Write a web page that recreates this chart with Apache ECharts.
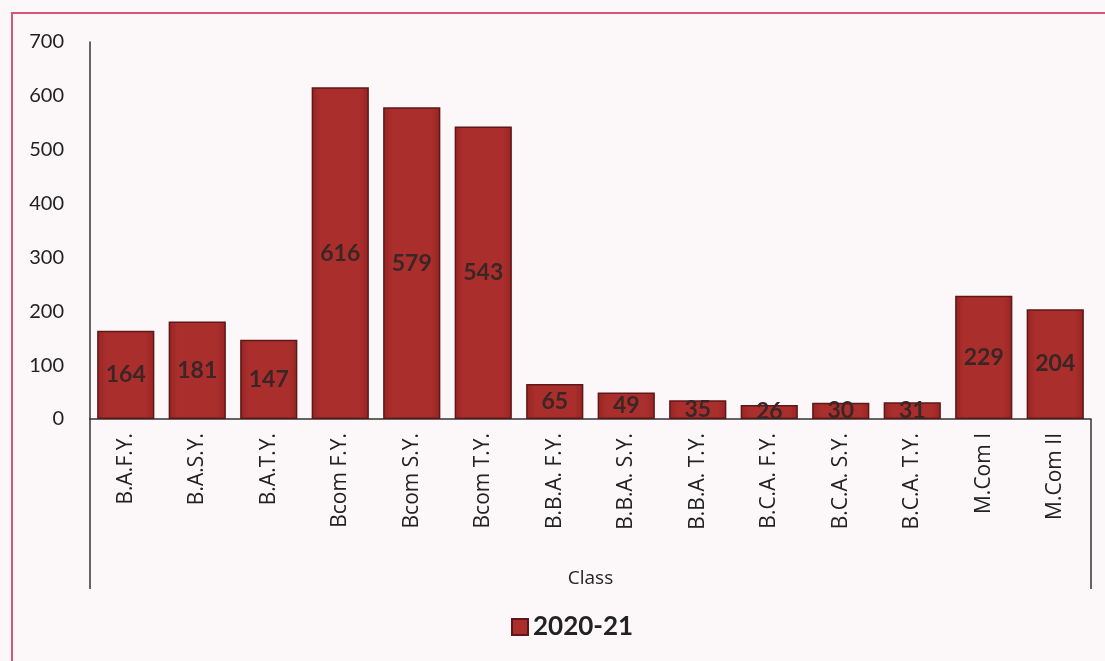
<!DOCTYPE html>
<html>
<head>
<meta charset="utf-8">
<script src="https://cdn.jsdelivr.net/npm/echarts@6/dist/echarts.min.js"></script>
<style>
html,body{margin:0;padding:0;background:#fcf8f9;}
#chart{width:1105px;height:661px;}
</style>
</head>
<body>
<div id="chart"></div>
<script>
const categories = ['B.A.F.Y.', 'B.A.S.Y.', 'B.A.T.Y.', 'Bcom F.Y.', 'Bcom S.Y.', 'Bcom T.Y.', 'B.B.A. F.Y.', 'B.B.A. S.Y.', 'B.B.A. T.Y.', 'B.C.A. F.Y.', 'B.C.A. S.Y.', 'B.C.A. T.Y.', 'M.Com I', 'M.Com II'];
const values2020 = [164, 181, 147, 616, 579, 543, 65, 49, 35, 26, 30, 31, 229, 204];
const seriesName = '2020-21';
const xAxisName = 'Class';

const chart = echarts.init(document.getElementById('chart'));
chart.setOption({
  backgroundColor: '#fcf8f9',
  animation: false,
  graphic: [{
    type: 'rect',
    shape: {x: 12, y: 13, width: 1110, height: 670},
    style: {fill: 'none', stroke: '#d4577a', lineWidth: 2},
    silent: true
  }],
  grid: {left: 90, right: 14, top: 42, bottom: 242},
  legend: {
    bottom: 16,
    left: 506,
    itemWidth: 16,
    itemHeight: 16,
    icon: 'rect',
    textStyle: {fontFamily: 'Lato', fontWeight: 'bold', fontSize: 26, color: '#222'},
    data: [seriesName]
  },
  xAxis: {
    type: 'category',
    data: categories,
    name: xAxisName,
    nameLocation: 'middle',
    nameGap: 150,
    nameTextStyle: {fontFamily: 'Open Sans', fontSize: 19, color: '#222'},
    axisLine: {show: true, lineStyle: {color: '#333', width: 1.5}},
    axisTick: {show: true, length: 170, interval: function (i) { return i === 0; }, lineStyle: {color: '#333', width: 1.5}},
    axisLabel: {rotate: 90, interval: 0, margin: 14, fontFamily: 'Open Sans', fontSize: 21, color: '#222'}
  },
  yAxis: {
    type: 'value',
    min: 0, max: 700, interval: 100,
    splitLine: {show: false},
    axisLine: {show: true, lineStyle: {color: '#333', width: 1.5}},
    axisTick: {show: false},
    axisLabel: {margin: 26, fontFamily: 'Lato', fontSize: 20, color: '#222'}
  },
  series: [{
    name: seriesName,
    type: 'bar',
    data: values2020,
    barCategoryGap: '20%',
    itemStyle: {
      color: new echarts.graphic.LinearGradient(0, 0, 1, 0, [
        {offset: 0, color: '#982424'},
        {offset: 0.15, color: '#a92e2c'},
        {offset: 0.85, color: '#a92e2c'},
        {offset: 1, color: '#982424'}
      ]),
      borderColor: '#5e1818',
      borderWidth: 1.5
    },
    label: {
      show: true,
      position: 'inside',
      fontFamily: 'Lato',
      fontWeight: 'bold',
      fontSize: 23,
      color: '#3a2626'
    }
  }]
});
</script>
</body>
</html>
